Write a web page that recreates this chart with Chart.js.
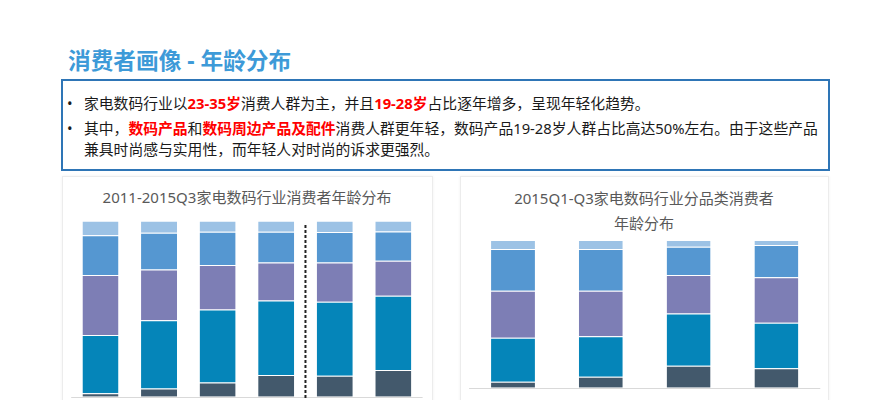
<!DOCTYPE html>
<html>
<head>
<meta charset="utf-8">
<script src="https://cdn.jsdelivr.net/npm/chart.js@4"></script>
<style>
  html, body { margin:0; padding:0; width:889px; height:400px; overflow:hidden; background:#fff;
    font-family:"Noto Sans","Noto Sans CJK SC",sans-serif; }
  .abs { position:absolute; }
  #title { left:68px; top:45px; font-size:22.7px; font-weight:bold; color:#3d9ad8; white-space:nowrap; line-height:32px; }
  #box { left:61px; top:79px; width:765px; height:88px; border:2px solid #2e75b6; }
  .line { position:absolute; left:0; white-space:nowrap; font-size:14.8px; color:#1a1a1a; line-height:20px; }
  .bul { position:absolute; left:4px; }
  .txt { position:absolute; left:21px; }
  .red { color:#ff0000; font-weight:bold; }
  .panel { border:1px solid #ececec; box-shadow:0 0 3px rgba(0,0,0,0.06); background:#fff; }
  .ctitle { font-size:15px; color:#595959; text-align:center; white-space:nowrap; line-height:25px; }
</style>
</head>
<body>
<div id="title" class="abs">消费者画像 - 年龄分布</div>
<div id="box" class="abs">
  <div class="line" style="top:12px"><span class="bul">•</span><span class="txt">家电数码行业以<span class="red">23-35岁</span>消费人群为主，并且<span class="red">19-28岁</span>占比逐年增多，呈现年轻化趋势。</span></div>
  <div class="line" style="top:37px"><span class="bul">•</span><span class="txt">其中，<span class="red">数码产品</span>和<span class="red">数码周边产品及配件</span>消费人群更年轻，数码产品19-28岁人群占比高达50%左右。由于这些产品</span></div>
  <div class="line" style="top:58px"><span class="txt">兼具时尚感与实用性，而年轻人对时尚的诉求更强烈。</span></div>
</div>

<div class="abs panel" style="left:62px; top:176px; width:369px; height:240px;"></div>
<div class="abs panel" style="left:460px; top:176px; width:367px; height:240px;"></div>

<div class="abs ctitle" style="left:62px; top:185px; width:370px;">2011-2015Q3家电数码行业消费者年龄分布</div>
<div class="abs ctitle" style="left:460px; top:186px; width:368px;">2015Q1-Q3家电数码行业分品类消费者<br>年龄分布</div>

<canvas id="c1" class="abs" width="370" height="300" style="left:62px; top:176px;"></canvas>
<canvas id="c2" class="abs" width="368" height="300" style="left:460px; top:176px;"></canvas>

<script>
// ---- data ----
const seriesNames = ["19-22岁", "23-28岁", "29-35岁", "36-40岁", "41岁及以上"];

const yearCategories = ["2011", "2012", "2013", "2014", "2014Q1-Q3", "2015Q1-Q3"];
const yearAge19_22 = [1.9, 4.7, 8.1, 12.3, 11.9, 15.2];
const yearAge23_28 = [33.1, 38.8, 41.5, 42.4, 42.0, 42.2];
const yearAge29_35 = [34.1, 28.8, 25.2, 21.6, 22.3, 19.9];
const yearAge36_40 = [22.7, 20.8, 18.9, 17.4, 17.4, 16.5];
const yearAge41up  = [8.2, 6.9, 6.3, 6.3, 6.4, 6.2];

const catCategories = ["大家电", "小家电", "数码产品", "数码周边产品及配件"];
const catAge19_22 = [4.1, 7.4, 14.9, 13.1];
const catAge23_28 = [29.8, 27.5, 35.4, 30.9];
const catAge29_35 = [31.8, 30.7, 26.0, 30.7];
const catAge36_40 = [28.2, 28.3, 19.2, 21.9];
const catAge41up  = [6.1, 6.1, 4.5, 3.4];

const colors = ["#43596c", "#0585b9", "#7d7eb5", "#5597d1", "#9cc2e5"];

function makeDatasets(arrs, barPct) {
  return arrs.map((d, i) => ({
    label: seriesNames[i],
    data: d,
    backgroundColor: colors[i],
    borderColor: "rgba(255,255,255,0.35)",
    borderWidth: { top: 1, left: 0, right: 0, bottom: 0 },
    borderSkipped: false,
    barPercentage: barPct,
    categoryPercentage: 1.0
  }));
}

const baselinePlugin = {
  id: "baseline",
  afterDatasetsDraw(chart) {
    const { ctx, chartArea, scales } = chart;
    const y = Math.round(scales.y.getPixelForValue(0)) + 0.5;
    ctx.save();
    ctx.strokeStyle = "#d9d9d9";
    ctx.lineWidth = 1;
    ctx.beginPath();
    ctx.moveTo(chartArea.left, y);
    ctx.lineTo(chartArea.right, y);
    ctx.stroke();
    ctx.restore();
  }
};

const dividerPlugin = {
  id: "divider",
  afterDatasetsDraw(chart, args, opts) {
    if (opts.after == null) return;
    const { ctx, scales } = chart;
    const x = (scales.x.getPixelForValue(opts.after) + scales.x.getPixelForValue(opts.after + 1)) / 2;
    const yTop = scales.y.getPixelForValue(opts.topValue);
    ctx.save();
    ctx.strokeStyle = "#222";
    ctx.lineWidth = 2;
    ctx.setLineDash([3, 2]);
    ctx.beginPath();
    ctx.moveTo(x, yTop);
    ctx.lineTo(x, chart.height);
    ctx.stroke();
    ctx.restore();
  }
};

function baseOptions(padding, divider) {
  return {
    responsive: false,
    devicePixelRatio: 1,
    animation: false,
    events: [],
    layout: { padding },
    plugins: {
      legend: { display: false },
      title: { display: false },
      tooltip: { enabled: false },
      divider: divider || {}
    },
    scales: {
      x: { stacked: true, display: false },
      y: { stacked: true, display: false, min: 0, max: 100 }
    }
  };
}

new Chart(document.getElementById("c1"), {
  type: "bar",
  data: {
    labels: yearCategories,
    datasets: makeDatasets([yearAge19_22, yearAge23_28, yearAge29_35, yearAge36_40, yearAge41up], 0.615)
  },
  options: baseOptions({ left: 9.2, right: 9.4, top: 44.7, bottom: 79.3 }, { after: 3, topValue: 97.5 }),
  plugins: [baselinePlugin, dividerPlugin]
});

new Chart(document.getElementById("c2"), {
  type: "bar",
  data: {
    labels: catCategories,
    datasets: makeDatasets([catAge19_22, catAge23_28, catAge29_35, catAge36_40, catAge41up], 0.50)
  },
  options: baseOptions({ left: 9.1, right: 7.7, top: 64, bottom: 88.3 }),
  plugins: [baselinePlugin, dividerPlugin]
});
</script>
</body>
</html>
